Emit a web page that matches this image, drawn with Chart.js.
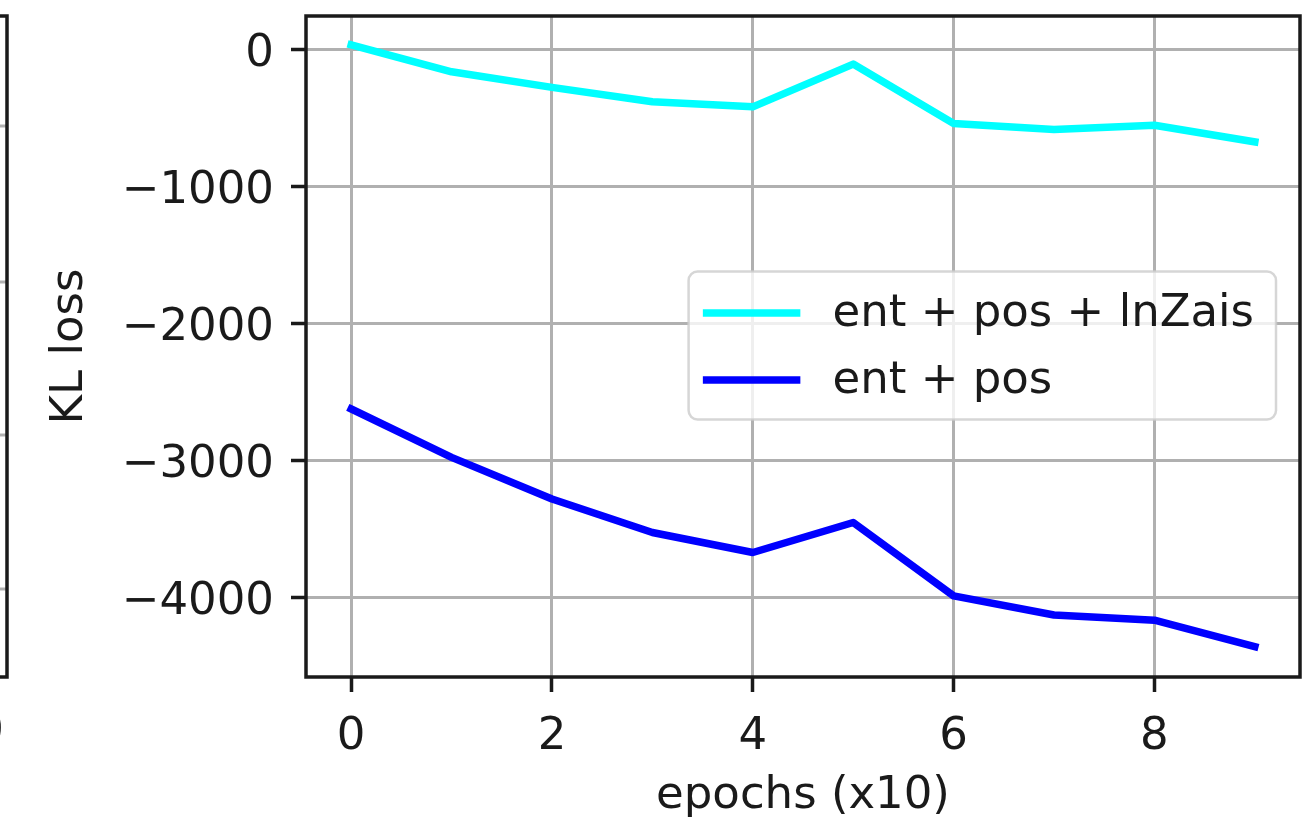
<!DOCTYPE html>
<html>
<head>
<meta charset="utf-8">
<title>KL loss</title>
<script src="https://cdn.jsdelivr.net/npm/chart.js@4.4.1/dist/chart.umd.min.js"></script>
<style>
    html, body { margin: 0; padding: 0; background: #fff; overflow: hidden; }
    #wrap { position: relative; width: 1316px; height: 821px; }
</style>
</head>
<body>
<div id="wrap"><canvas id="klChart"></canvas></div>
<script>
// Chart data
const epochs = [0, 1, 2, 3, 4, 5, 6, 7, 8, 9];
const entPosLnZais = [35, -162, -276, -381, -418, -106, -540, -583, -552, -674];
const entPos = [-2623, -2977, -3281, -3525, -3671, -3452, -3988, -4127, -4165, -4358];
const seriesLabels = ['ent + pos + lnZais', 'ent + pos'];
const xTicks = [0, 2, 4, 6, 8];
const yTicks = [-4000, -3000, -2000, -1000, 0];
const xRange = [-0.45, 9.45];
const yRange = [-4580, 245];

const FONT = 45;
const TEXT = '#1a1a1a';
const GRID = '#b0b0b0';

Chart.defaults.font.family = "'DejaVu Sans'";
Chart.defaults.font.size = FONT;
Chart.defaults.color = TEXT;

// Use a real minus sign like matplotlib
function fmtTick(value) {
    return value < 0 ? '\u2212' + Math.abs(value) : String(value);
}

// Frame around the plot plus the edge of the neighbouring panel
const framePlugin = {
    id: 'frame',
    afterDatasetsDraw(chart) {
        const {ctx, chartArea: a} = chart;
        ctx.save();
        ctx.strokeStyle = TEXT;
        ctx.lineWidth = 3.5;
        ctx.strokeRect(a.left, a.top, a.right - a.left, a.bottom - a.top);

        // cut-off panel on the far left
        ctx.strokeStyle = GRID;
        ctx.lineWidth = 3;
        [126, 282, 435, 589].forEach(y => {
            ctx.beginPath();
            ctx.moveTo(0, y);
            ctx.lineTo(6, y);
            ctx.stroke();
        });
        ctx.strokeStyle = TEXT;
        ctx.lineWidth = 3.5;
        ctx.beginPath();
        ctx.moveTo(0, a.top);
        ctx.lineTo(7, a.top);
        ctx.lineTo(7, a.bottom);
        ctx.lineTo(0, a.bottom);
        ctx.stroke();
        ctx.font = FONT + "px 'DejaVu Sans'";
        ctx.fillStyle = TEXT;
        ctx.textAlign = 'right';
        ctx.textBaseline = 'top';
        ctx.fillText('0', 4, 710);
        ctx.restore();
    }
};

// matplotlib style legend, 'center right'
const legendPlugin = {
    id: 'mplLegend',
    afterDatasetsDraw(chart) {
        const {ctx, chartArea: a} = chart;
        const sets = chart.data.datasets;
        ctx.save();
        ctx.font = FONT + "px 'DejaVu Sans'";
        const textW = Math.max(...sets.map(d => ctx.measureText(d.label).width));
        const pad = 18, handleLen = 90, gap = 36, rowH = 67;
        const w = pad * 2 + handleLen + gap + textW + 4;
        const h = 148;
        const right = a.right - 24;
        const left = right - w;
        const cy = (a.top + a.bottom) / 2 - 1;
        const top = cy - h / 2;

        ctx.beginPath();
        ctx.roundRect(left, top, w, h, 9);
        ctx.fillStyle = 'rgba(255,255,255,0.8)';
        ctx.fill();
        ctx.strokeStyle = 'rgba(204,204,204,0.8)';
        ctx.lineWidth = 2.5;
        ctx.stroke();

        sets.forEach((d, i) => {
            const y = cy - rowH / 2 + i * rowH + 1;
            ctx.strokeStyle = d.borderColor;
            ctx.lineWidth = d.borderWidth;
            ctx.lineCap = 'square';
            ctx.beginPath();
            ctx.moveTo(left + pad, y);
            ctx.lineTo(left + pad + handleLen, y);
            ctx.stroke();
            ctx.fillStyle = TEXT;
            ctx.textAlign = 'left';
            ctx.textBaseline = 'middle';
            ctx.fillText(d.label, left + pad + handleLen + gap, y + 1);
        });
        ctx.restore();
    }
};

function buildDataset(label, values, color) {
    return {
        label: label,
        data: epochs.map((e, i) => ({x: e, y: values[i]})),
        borderColor: color,
        backgroundColor: color,
        borderWidth: 7.5,
        borderJoinStyle: 'round',
        borderCapStyle: 'square',
        pointRadius: 0,
        tension: 0,
        fill: false
    };
}

const ctx = document.getElementById('klChart').getContext('2d');
const klChart = new Chart(ctx, {
    type: 'line',
    data: {
        datasets: [
            buildDataset(seriesLabels[0], entPosLnZais, '#00ffff'),
            buildDataset(seriesLabels[1], entPos, '#0000ff')
        ]
    },
    options: {
        responsive: true,
        maintainAspectRatio: false,
        animation: false,
        layout: {
            padding: {left: 0, top: 16, right: 16, bottom: 0}
        },
        plugins: {
            legend: {display: false},
            tooltip: {enabled: false}
        },
        scales: {
            x: {
                type: 'linear',
                min: xRange[0],
                max: xRange[1],
                afterBuildTicks: s => { s.ticks = xTicks.map(v => ({value: v})); },
                afterFit: s => {
                    s.height = 144;
                    s.paddingLeft = 0;
                    s.paddingRight = 0;
                },
                border: {display: false},
                grid: {
                    color: GRID,
                    lineWidth: 3,
                    drawTicks: true,
                    tickLength: 15,
                    tickColor: TEXT,
                    tickWidth: 3.5
                },
                ticks: {
                    padding: 18,
                    maxRotation: 0,
                    autoSkip: false,
                    color: TEXT,
                    font: {size: FONT}
                },
                title: {
                    display: true,
                    text: 'epochs (x10)',
                    color: TEXT,
                    font: {size: FONT, lineHeight: 1.1},
                    padding: {top: 0, bottom: 0}
                }
            },
            y: {
                type: 'linear',
                min: yRange[0],
                max: yRange[1],
                afterBuildTicks: s => { s.ticks = yTicks.map(v => ({value: v})); },
                afterFit: s => {
                    s.width = 306;
                    s.paddingTop = 0;
                    s.paddingBottom = 0;
                },
                border: {display: false},
                grid: {
                    color: GRID,
                    lineWidth: 3,
                    drawTicks: true,
                    tickLength: 15,
                    tickColor: TEXT,
                    tickWidth: 3.5
                },
                ticks: {
                    padding: 17,
                    labelOffset: 5,
                    autoSkip: false,
                    color: TEXT,
                    font: {size: FONT},
                    callback: value => fmtTick(value)
                },
                title: {
                    display: true,
                    text: 'KL loss',
                    color: TEXT,
                    font: {size: FONT},
                    padding: {top: 43, bottom: 0}
                }
            }
        }
    },
    plugins: [framePlugin, legendPlugin]
});
</script>
</body>
</html>
